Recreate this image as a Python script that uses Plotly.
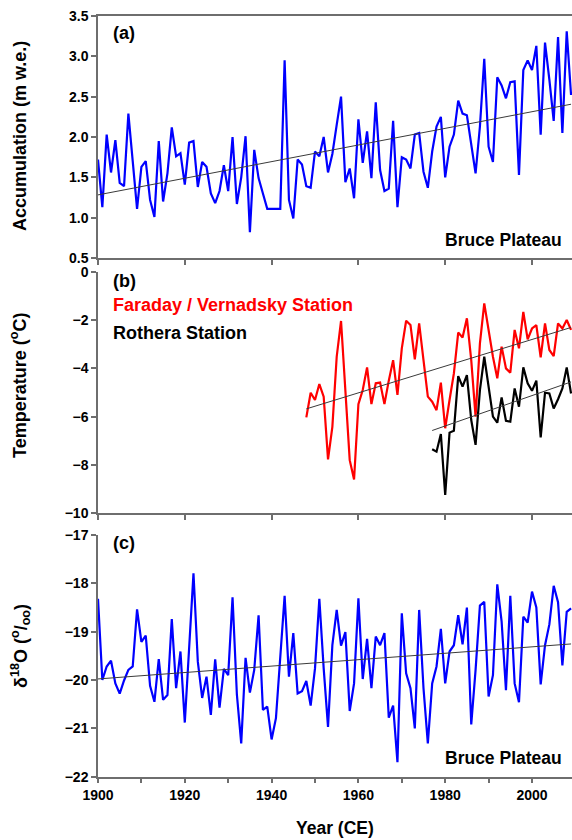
import numpy as np
import plotly.graph_objects as go

# ---------------- data ----------------
acc_years = list(range(1900, 2010))
accumulation = [
    1.72, 1.13, 2.03, 1.56, 1.96, 1.43, 1.39, 2.29, 1.70, 1.11,
    1.63, 1.70, 1.22, 1.01, 1.95, 1.20, 1.55, 2.12, 1.76, 1.80,
    1.41, 1.93, 1.95, 1.38, 1.69, 1.63, 1.30, 1.18, 1.33, 1.65,
    1.33, 2.00, 1.17, 1.50, 2.01, 0.82, 1.84, 1.49, 1.30, 1.11,
    1.11, 1.11, 1.11, 2.95, 1.22, 0.99, 1.72, 1.66, 1.39, 1.37,
    1.82, 1.76, 2.00, 1.56, 1.79, 2.15, 2.50, 1.44, 1.61, 1.24,
    2.22, 1.68, 2.07, 1.49, 2.43, 1.59, 1.33, 1.36, 2.20, 1.13,
    1.75, 1.72, 1.61, 2.03, 2.05, 1.57, 1.37, 1.82, 2.13, 2.25,
    1.50, 1.88, 2.03, 2.45, 2.29, 2.27, 1.92, 1.55, 2.13, 2.97,
    1.88, 1.69, 2.74, 2.64, 2.48, 2.68, 2.69, 1.53, 2.83, 2.95,
    2.83, 3.13, 2.03, 3.17, 2.71, 2.20, 3.24, 2.05, 3.31, 2.52,
]

faraday_years = list(range(1948, 2010))
faraday_temp = [
    -6.03, -5.01, -5.31, -4.65, -5.17, -7.77, -6.42, -3.52, -2.04, -5.04,
    -7.80, -8.60, -5.48, -4.90, -3.96, -5.48, -4.62, -4.59, -5.48, -4.51,
    -3.66, -5.10, -3.17, -2.03, -2.21, -3.63, -2.14, -3.66, -5.17, -5.38,
    -5.73, -4.59, -6.48, -5.31, -4.21, -2.52, -2.72, -1.93, -3.66, -6.00,
    -2.97, -1.31, -2.48, -3.52, -4.41, -3.10, -4.00, -4.18, -2.41, -3.17,
    -1.66, -2.80, -2.35, -2.21, -3.55, -2.14, -3.24, -3.49, -2.14, -2.35,
    -2.00, -2.41,
]

rothera_years = list(range(1977, 2010))
rothera_temp = [
    -7.35, -7.45, -6.72, -9.24, -6.66, -6.58, -4.32, -4.76, -4.28, -6.14,
    -7.17, -4.90, -3.52, -4.69, -6.00, -6.25, -5.20, -6.17, -6.21, -4.83,
    -5.59, -3.96, -4.62, -4.93, -4.51, -6.86, -5.01, -5.04, -5.66, -5.28,
    -4.83, -3.96, -5.04,
]

d18o_years = list(range(1900, 2010))
d18o = [
    -18.32, -20.00, -19.72, -19.60, -20.07, -20.28, -20.01, -19.79, -19.72, -18.54,
    -19.21, -19.08, -20.12, -20.45, -19.57, -20.41, -20.31, -18.74, -20.17, -19.41,
    -20.88, -19.34, -17.79, -19.62, -20.37, -19.93, -20.72, -19.57, -20.57, -19.77,
    -19.90, -18.29, -20.30, -21.31, -19.54, -20.26, -19.79, -18.66, -20.62, -20.55,
    -21.23, -20.79, -19.62, -18.26, -19.93, -19.03, -20.28, -20.23, -20.02, -20.53,
    -19.76, -18.32, -19.76, -20.97, -19.28, -18.55, -19.29, -19.01, -20.64, -20.07,
    -18.31, -19.98, -19.15, -20.17, -19.10, -19.28, -19.03, -20.78, -20.53, -21.70,
    -18.62, -19.86, -20.17, -21.00, -18.55, -20.17, -21.31, -20.07, -19.72, -18.94,
    -20.07, -19.41, -19.28, -18.66, -19.26, -18.50, -20.92, -19.79, -18.46, -18.38,
    -20.34, -19.90, -18.02, -18.79, -20.21, -18.26, -20.07, -20.46, -18.69, -18.81,
    -18.17, -18.50, -20.09, -19.28, -18.85, -18.05, -18.39, -19.70, -18.59, -18.52,
]

x_major_vals = [1900, 1920, 1940, 1960, 1980, 2000]
x_major_text = ["1900", "1920", "1940", "1960", "1980", "2000"]

acc_ticks = [0.5, 1.0, 1.5, 2.0, 2.5, 3.0, 3.5]
temp_ticks = [0, -2, -4, -6, -8, -10]
d18o_ticks = [-17, -18, -19, -20, -21, -22]


def trend(xs, ys):
    k, b = np.polyfit(xs, ys, 1)
    return [xs[0], xs[-1]], [k * xs[0] + b, k * xs[-1] + b]


# ---------------- figure ----------------
W, H = 572, 840
L = 98
PW = W - L
FONT = "Liberation Sans, Arial, sans-serif"
AXC = "#6e6e6e"

fig = go.Figure()

blue = "#0000ff"
red = "#ff0000"
tr_col = "#3a3a3a"

# Panel a
fig.add_trace(go.Scatter(x=acc_years, y=accumulation, mode="lines",
                         line=dict(color=blue, width=2.2), xaxis="x", yaxis="y"))
tx, ty = trend(acc_years, accumulation)
fig.add_trace(go.Scatter(x=tx, y=ty, mode="lines",
                         line=dict(color=tr_col, width=1), xaxis="x", yaxis="y"))

# Panel b
fig.add_trace(go.Scatter(x=faraday_years, y=faraday_temp, mode="lines",
                         line=dict(color=red, width=2.2), xaxis="x2", yaxis="y2"))
fig.add_trace(go.Scatter(x=rothera_years, y=rothera_temp, mode="lines",
                         line=dict(color="black", width=2.2), xaxis="x2", yaxis="y2"))
tx, ty = trend(faraday_years, faraday_temp)
fig.add_trace(go.Scatter(x=tx, y=ty, mode="lines",
                         line=dict(color=tr_col, width=1), xaxis="x2", yaxis="y2"))
tx, ty = trend(rothera_years, rothera_temp)
fig.add_trace(go.Scatter(x=tx, y=ty, mode="lines",
                         line=dict(color=tr_col, width=1), xaxis="x2", yaxis="y2"))

# Panel c
fig.add_trace(go.Scatter(x=d18o_years, y=d18o, mode="lines",
                         line=dict(color=blue, width=2.2), xaxis="x3", yaxis="y3"))
tx, ty = trend(d18o_years, d18o)
fig.add_trace(go.Scatter(x=tx, y=ty, mode="lines",
                         line=dict(color=tr_col, width=1), xaxis="x3", yaxis="y3"))

x_range = [1900, 1900 + PW / 4.34]


def py(px):
    return 1 - px / H


def pxx(px):
    return (px - L) / PW


tickfont = dict(family=FONT, size=14, color="black", weight="bold")

common_x = dict(range=x_range, showgrid=False, zeroline=False, showline=True,
                linecolor=AXC, linewidth=1.5, ticks="outside", ticklen=5,
                tickcolor=AXC, tickwidth=1.5, automargin=False, tickfont=tickfont,
                domain=[0, 1], tickvals=x_major_vals, ticktext=x_major_text)
common_y = dict(showgrid=False, zeroline=False, showline=True, linecolor=AXC,
                linewidth=1.5, ticks="outside", ticklen=5, tickcolor=AXC,
                tickwidth=1.5, automargin=False, tickfont=tickfont)

fig.update_layout(
    width=W, height=H,
    margin=dict(l=L, r=0, t=0, b=0),
    paper_bgcolor="white", plot_bgcolor="white",
    showlegend=False,
    xaxis=dict(**common_x, anchor="y", showticklabels=False, mirror=True),
    yaxis=dict(**common_y, anchor="x", domain=[py(258), py(16)], range=[0.5, 3.5],
               tickvals=acc_ticks, tickformat=".1f"),
    xaxis2=dict(**common_x, anchor="y2", showticklabels=False),
    yaxis2=dict(**common_y, anchor="x2", domain=[py(513.3), py(271.7)], range=[-10, 0],
                tickvals=temp_ticks),
    xaxis3=dict(**common_x, anchor="y3",
                minor=dict(tick0=1910, dtick=20, ticks="outside", ticklen=5,
                           tickcolor=AXC, tickwidth=1.5, showgrid=False)),
    yaxis3=dict(**common_y, anchor="x3", domain=[py(776.7), py(535)], range=[-22, -17],
                tickvals=d18o_ticks),
)

bold18 = dict(family=FONT, size=18, color="black", weight="bold")


def ann(text, x, y, xanchor="left", color="black", angle=0, size=18):
    f = dict(bold18)
    f["color"] = color
    f["size"] = size
    fig.add_annotation(text=text, x=pxx(x), y=py(y), xref="paper", yref="paper",
                       xanchor=xanchor, yanchor="middle", showarrow=False,
                       font=f, textangle=angle)


ann("(a)", 111, 33)
ann("Bruce Plateau", 564, 240, xanchor="right", size=17.5)
ann("(b)", 111, 281)
ann("Faraday / Vernadsky Station", 111, 305, color=red)
ann("Rothera Station", 111, 333)
ann("(c)", 111, 543)
ann("Bruce Plateau", 564, 758, xanchor="right", size=17.5)

ann("Accumulation (m w.e.)", 20, 136, xanchor="center", angle=-90)
ann("Temperature (<sup>o</sup>C)", 19, 386, xanchor="center", angle=-90)
ann("δ<sup>18</sup>O (<sup>o</sup>/<sub>oo</sub>)", 20, 646, xanchor="center", angle=-90)
ann("Year (CE)", 335, 828, xanchor="center", size=17.5)

fig.write_html(
    "out.html",
    config={"displayModeBar": False},
    post_script="document.body.style.margin='0px';document.body.style.overflow='hidden';",
)
